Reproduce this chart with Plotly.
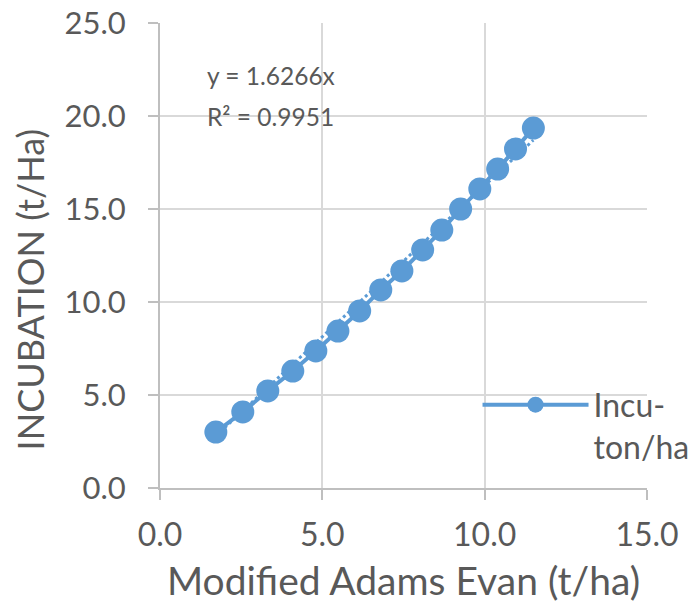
import numpy as np
import plotly.graph_objects as go

# Data
modified_adams_evan = [1.72, 2.55, 3.32, 4.09, 4.80, 5.48, 6.15, 6.80, 7.45, 8.09, 8.68, 9.26, 9.85, 10.40, 10.95, 11.50]
incubation = [3.01, 4.09, 5.22, 6.29, 7.37, 8.44, 9.52, 10.65, 11.67, 12.80, 13.87, 15.00, 16.08, 17.15, 18.23, 19.35]
trend_slope = 1.6266
r_squared = 0.9951
series_name = "Incu-<br>ton/ha"
x_title = "Modified Adams Evan (t/ha)"
y_title = "INCUBATION (t/Ha)"

x_ticks = [0, 5, 10, 15]
y_ticks = [0, 5, 10, 15, 20, 25]

BLUE = "#5B9BD5"
TEXT = "#595959"
GRID = "#D9D9D9"
AXIS = "#BFBFBF"
FONT = "Lato, 'Open Sans', sans-serif"

fig = go.Figure()

tx = np.array([min(modified_adams_evan), max(modified_adams_evan)])
fig.add_trace(go.Scatter(
    x=tx, y=trend_slope * tx, mode="lines",
    line=dict(color=BLUE, width=3, dash="dot"),
    showlegend=False, hoverinfo="skip",
))

fig.add_trace(go.Scatter(
    x=modified_adams_evan, y=incubation, mode="lines+markers",
    name=series_name,
    line=dict(color=BLUE, width=4),
    marker=dict(color=BLUE, size=23),
))

fig.add_annotation(
    x=1.386, y=22.2, xref="x", yref="y", xanchor="left", yanchor="middle",
    text=f"y = {trend_slope:.4f}x", showarrow=False,
    font=dict(family=FONT, size=24.5, color=TEXT),
)
fig.add_annotation(
    x=1.386, y=19.95, xref="x", yref="y", xanchor="left", yanchor="middle",
    text=f"R² = {r_squared:.4f}", showarrow=False,
    font=dict(family=FONT, size=24.5, color=TEXT),
)
# Y axis title (placed like the reference, slightly below the axis centre)
fig.add_annotation(
    x=-0.266, y=0.428, xref="paper", yref="paper", xanchor="center", yanchor="middle",
    text=y_title, textangle=-90, showarrow=False,
    font=dict(family=FONT, size=36, color=TEXT),
)

fig.update_layout(
    width=690, height=603,
    margin=dict(l=152, r=51, t=15, b=123, autoexpand=False),
    paper_bgcolor="white", plot_bgcolor="white",
    font=dict(family=FONT, size=32, color=TEXT),
    legend=dict(
        x=0.652, y=0.238, xanchor="left", yanchor="top", valign="top",
        bgcolor="rgba(0,0,0,0)", font=dict(size=32, color=TEXT),
        itemwidth=106,
    ),
    xaxis=dict(
        range=[0, 15], tickvals=x_ticks, ticktext=[f"{v:.1f}" for v in x_ticks],
        showgrid=True, gridcolor=GRID, gridwidth=2,
        showline=True, linecolor=AXIS, linewidth=2,
        ticks="outside", ticklen=10, tickcolor=AXIS, tickwidth=2,
        zeroline=False, automargin=False, ticklabeloverflow="allow",
        tickfont=dict(size=32), ticklabelstandoff=8,
        title=dict(text=x_title, font=dict(size=39, color=TEXT), standoff=15),
    ),
    yaxis=dict(
        range=[0, 25], tickvals=y_ticks, ticktext=[f"{v:.1f}" for v in y_ticks],
        showgrid=True, gridcolor=GRID, gridwidth=2,
        showline=True, linecolor=AXIS, linewidth=2,
        ticks="outside", ticklen=10, tickcolor=AXIS, tickwidth=2,
        zeroline=False, automargin=False, ticklabeloverflow="allow",
        tickfont=dict(size=31), ticklabelstandoff=16,
    ),
)

fig.write_html("out.html")
